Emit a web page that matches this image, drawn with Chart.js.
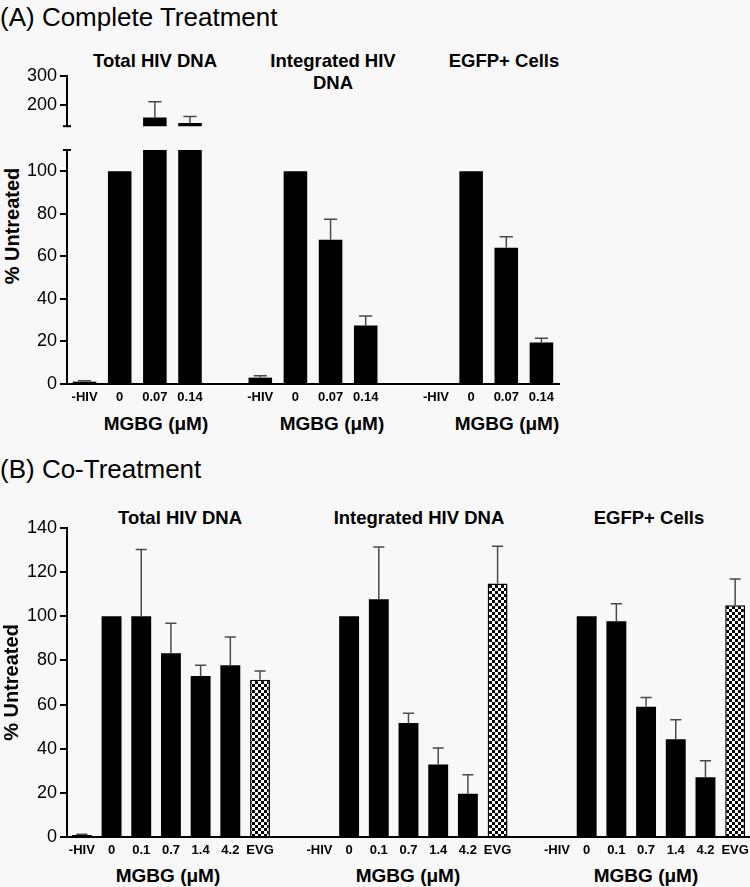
<!DOCTYPE html>
<html>
<head>
<meta charset="utf-8">
<script src="https://cdn.jsdelivr.net/npm/chart.js@4.4.1/dist/chart.umd.min.js"></script>
<style>
  body { margin: 0; background: #f8f8f8; width: 750px; height: 887px; position: relative; overflow: hidden;
         font-family: Arial, "Liberation Sans", Helvetica, sans-serif; color: #000; }
  canvas { position: absolute; left: 0; }
  .panel { position: absolute; left: 0; font-size: 26px; line-height: 1; white-space: nowrap; }
  .lbl { position: absolute; transform: translate(-50%, -50%); font-weight: bold; white-space: nowrap; text-align: center; line-height: 1.2; }
  .grp { font-size: 18.5px; }
  .unit { font-size: 19px; }
  .ytitle { position: absolute; font-weight: bold; font-size: 20px; white-space: nowrap; transform: translate(-50%, -50%) rotate(-90deg); }
</style>
</head>
<body>
<div class="panel" style="top:4px">(A) Complete Treatment</div>
<div class="lbl grp" style="left:155px; top:61px">Total HIV DNA</div>
<div class="lbl grp" style="left:333px; top:72px">Integrated HIV<br>DNA</div>
<div class="lbl grp" style="left:504px; top:61px">EGFP+ Cells</div>
<div class="ytitle" style="left:12px; top:226px">% Untreated</div>
<div class="lbl unit" style="left:156px; top:424px">MGBG (μM)</div>
<div class="lbl unit" style="left:332px; top:424px">MGBG (μM)</div>
<div class="lbl unit" style="left:507px; top:424px">MGBG (μM)</div>

<div class="panel" style="top:456px">(B) Co-Treatment</div>
<div class="lbl grp" style="left:180px; top:518px">Total HIV DNA</div>
<div class="lbl grp" style="left:419px; top:518px">Integrated HIV DNA</div>
<div class="lbl grp" style="left:649px; top:518px">EGFP+ Cells</div>
<div class="lbl unit" style="left:168px; top:876px">MGBG (μM)</div>
<div class="lbl unit" style="left:408px; top:876px">MGBG (μM)</div>
<div class="lbl unit" style="left:646px; top:876px">MGBG (μM)</div>

<canvas id="aTop" width="562" height="80" style="top:60px"></canvas>
<canvas id="aLow" width="562" height="300" style="top:134px"></canvas>
<canvas id="b" width="750" height="377" style="top:510px"></canvas>

<script>
// (A) complete treatment, % of untreated, mean and SD (upper error only)
const doseA = ['-HIV', '0', '0.07', '0.14'];
const totalA = [1.1, 100, 155, 136];
const totalASd = [0.4, 0, 55, 23];
const integratedA = [3.0, 100, 67.8, 27.5];
const integratedASd = [0.9, 0, 9.7, 4.5];
const egfpA = [null, 100, 64, 19.5];
const egfpASd = [0, 0, 5.2, 2.0];
const ticksAUpper = [200, 300];
const ticksALower = [0, 20, 40, 60, 80, 100];

// (B) co-treatment
const doseB = ['-HIV', '0', '0.1', '0.7', '1.4', '4.2', 'EVG'];
const totalB = [0.9, 100, 100, 83.2, 73, 77.8, 71.3];
const totalBSd = [0.3, 0, 30.3, 13.6, 4.8, 12.8, 3.9];
const integratedB = [null, 100, 107.7, 51.6, 32.9, 19.6, 114.8];
const integratedBSd = [0, 0, 23.7, 4.5, 7.4, 8.6, 16.9];
const egfpB = [null, 100, 97.7, 59, 44.3, 27.1, 105];
const egfpBSd = [0, 0, 8, 4.2, 8.8, 7.4, 11.9];
const ticksB = [0, 20, 40, 60, 80, 100, 120, 140];

Chart.defaults.font.family = 'Arial, "Liberation Sans", Helvetica, sans-serif';
Chart.defaults.color = '#000';

// three groups side by side, one empty slot between them
const withGaps = (a, b, c, gap) => [...a, gap, ...b, gap, ...c];

const labelsA = withGaps(doseA, doseA, doseA, '');
const valuesA = withGaps(totalA, integratedA, egfpA, null);
const sdA = withGaps(totalASd, integratedASd, egfpASd, 0);
const labelsB = withGaps(doseB, doseB, doseB, '');
const valuesB = withGaps(totalB, integratedB, egfpB, null);
const sdB = withGaps(totalBSd, integratedBSd, egfpBSd, 0);

function checker(ctx) {
    const c = document.createElement('canvas');
    c.width = c.height = 6;
    const g = c.getContext('2d');
    g.fillStyle = '#fff';
    g.fillRect(0, 0, 6, 6);
    g.fillStyle = '#000';
    g.fillRect(0, 0, 3, 3);
    g.fillRect(3, 3, 3, 3);
    return ctx.createPattern(c, 'repeat');
}

const errorBars = {
    id: 'errorBars',
    afterDatasetsDraw(chart) {
        const { ctx, chartArea: a, scales: { y } } = chart;
        const ds = chart.data.datasets[0];
        const meta = chart.getDatasetMeta(0);
        ctx.save();
        ctx.beginPath();
        ctx.rect(a.left, a.top - 1, a.right - a.left, a.bottom - a.top + 1);
        ctx.clip();
        ctx.strokeStyle = '#4a4a4a';
        ctx.lineWidth = 1.5;
        meta.data.forEach((bar, i) => {
            const v = ds.data[i], e = ds.errors[i];
            if (v == null || !e) return;
            const y0 = y.getPixelForValue(v), y1 = y.getPixelForValue(v + e);
            const cap = bar.width * 0.28;
            ctx.beginPath();
            ctx.moveTo(bar.x, y0);
            ctx.lineTo(bar.x, y1);
            ctx.moveTo(bar.x - cap, y1);
            ctx.lineTo(bar.x + cap, y1);
            ctx.stroke();
        });
        ctx.restore();
    }
};

// short end marks where the y axis is broken
const axisBreak = {
    id: 'axisBreak',
    afterDraw(chart, args, opts) {
        if (!opts.edge) return;
        const { ctx, chartArea: a } = chart;
        const yy = opts.edge === 'top' ? a.top : a.bottom;
        ctx.save();
        ctx.strokeStyle = '#000';
        ctx.lineWidth = 2;
        ctx.beginPath();
        ctx.moveTo(a.left - 4, yy);
        ctx.lineTo(a.left + 4, yy);
        ctx.stroke();
        ctx.restore();
    }
};

const yScale = (min, max, ticks, title) => ({
    min: min,
    max: max,
    afterBuildTicks: s => { s.ticks = ticks.map(v => ({ value: v })); },
    afterFit: s => { s.width = 67; },
    grid: { display: true, drawOnChartArea: false, drawTicks: true, tickLength: 7, color: '#000', lineWidth: 2 },
    border: { display: true, color: '#000', width: 2 },
    ticks: { padding: 3, font: { size: 18, weight: 'normal' }, color: '#000' },
    title: title ? { display: true, text: title, padding: 0, font: { size: 20, weight: 'bold' }, color: '#000' } : { display: false }
});

const xScale = (show) => ({
    type: 'category',
    offset: true,
    display: show,
    afterFit: s => {
        if (!show) return;
        s.height = 50;
        s.paddingLeft = 0;
        s.paddingRight = 0;
    },
    grid: { display: false, drawTicks: false },
    border: { display: true, color: '#000', width: 2 },
    ticks: { autoSkip: false, maxRotation: 0, padding: 6, font: { size: 13, weight: 'bold' }, color: '#000' }
});

function makeChart(id, labels, values, sd, yOpts, xShow, padding, edge) {
    const ctx = document.getElementById(id).getContext('2d');
    const pattern = checker(ctx);
    return new Chart(ctx, {
        type: 'bar',
        data: {
            labels: labels,
            datasets: [{
                data: values,
                errors: sd,
                backgroundColor: labels.map(l => l === 'EVG' ? pattern : '#000'),
                borderColor: '#000',
                borderWidth: labels.map(l => l === 'EVG' ? 1.5 : 0),
                barPercentage: 0.67,
                categoryPercentage: 1
            }]
        },
        options: {
            responsive: false,
            animation: false,
            devicePixelRatio: 1,
            layout: { padding: padding },
            scales: { x: xScale(xShow), y: yOpts },
            plugins: {
                legend: { display: false },
                tooltip: { enabled: false },
                axisBreak: { edge: edge }
            }
        },
        plugins: [errorBars, axisBreak]
    });
}

makeChart('aTop', labelsA, valuesA, sdA, yScale(125, 300, ticksAUpper), false,
    { top: 16, bottom: 7, right: 3, left: 0 }, 'bottom');
makeChart('aLow', labelsA, valuesA, sdA, yScale(0, 110, ticksALower), true,
    { top: 16, bottom: 0, right: 3, left: 0 }, 'top');
makeChart('b', labelsB, valuesB, sdB, yScale(0, 140, ticksB, '% Untreated'), true,
    { top: 18, bottom: 0, right: 0, left: 0 }, null);
</script>
</body>
</html>
